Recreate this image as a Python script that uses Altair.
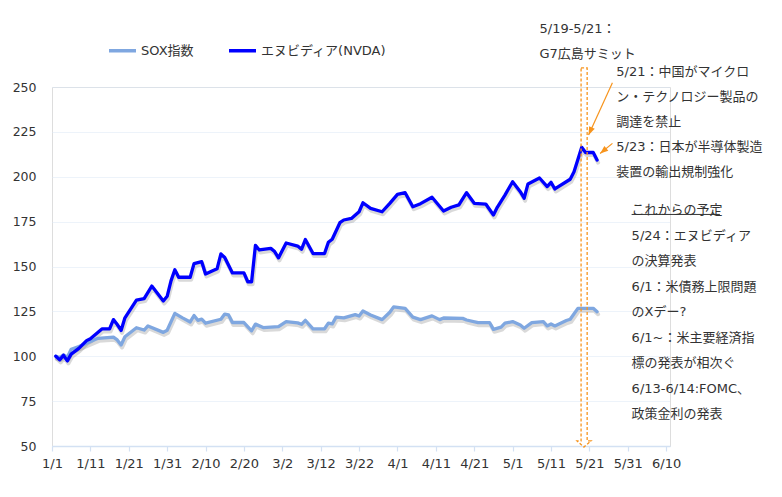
import altair as alt
import pandas as pd

# ---------------- data ----------------
series_names = ["SOX指数", "エヌビディア(NVDA)"]
series_colors = ["#7FA7E0", "#0000FF"]

nvda_dates = ["1/2", "1/3", "1/4", "1/5", "1/6", "1/8", "1/10", "1/11", "1/14", "1/16",
              "1/17", "1/18", "1/19", "1/20", "1/23", "1/25", "1/27", "1/30", "1/31", "2/1",
              "2/2", "2/3", "2/6", "2/7", "2/9", "2/10", "2/13", "2/14", "2/15", "2/17",
              "2/20", "2/21", "2/22", "2/23", "2/24", "2/27", "2/28", "3/1", "3/3", "3/6",
              "3/7", "3/8", "3/10", "3/13", "3/14", "3/15", "3/17", "3/18", "3/20", "3/22",
              "3/23", "3/25", "3/28", "3/30", "4/1", "4/3", "4/5", "4/7", "4/10", "4/13",
              "4/15", "4/17", "4/19", "4/21", "4/24", "4/26", "4/27", "4/29", "5/1", "5/3",
              "5/4", "5/5", "5/8", "5/10", "5/11", "5/12", "5/16", "5/17", "5/19", "5/20",
              "5/22", "5/23"]
nvda_values = [100, 98.0, 100.5, 97.4, 101.2, 104.4, 108.7, 109.8, 115.2, 115.2,
               120.4, 117.7, 114.4, 121.4, 131.3, 132.1, 139.1, 130.8, 133.4, 142.0,
               148.2, 144.0, 144.0, 151.6, 152.7, 145.8, 148.7, 157.0, 155.0, 146.4,
               146.4, 141.5, 141.5, 161.8, 159.2, 160.1, 158.3, 154.8, 163.1, 161.4,
               159.6, 165.0, 157.2, 157.2, 163.5, 165.2, 174.4, 175.9, 176.8, 180.5,
               185.5, 182.4, 180.5, 185.2, 190.2, 191.1, 183.3, 185.0, 188.6, 180.9,
               183.0, 184.3, 191.1, 185.2, 184.8, 178.7, 183.0, 189.8, 197.2, 191.7,
               188.0, 196.0, 199.3, 194.5, 196.9, 193.2, 198.6, 202.8, 216.4, 213.5,
               213.5, 209.3]

sox_dates = ["1/2", "1/3", "1/4", "1/5", "1/6", "1/8", "1/13", "1/17", "1/18", "1/19",
             "1/20", "1/23", "1/25", "1/26", "1/30", "1/31", "2/2", "2/4", "2/6", "2/7",
             "2/8", "2/9", "2/10", "2/14", "2/15", "2/16", "2/17", "2/20", "2/22", "2/23",
             "2/25", "3/1", "3/3", "3/6", "3/7", "3/8", "3/10", "3/13", "3/14", "3/15",
             "3/16", "3/18", "3/21", "3/22", "3/23", "3/25", "3/28", "3/30", "3/31", "4/3",
             "4/5", "4/7", "4/10", "4/12", "4/13", "4/18", "4/19", "4/22", "4/25", "4/26",
             "4/28", "4/29", "5/1", "5/3", "5/4", "5/6", "5/9", "5/10", "5/11", "5/12",
             "5/15", "5/16", "5/18", "5/22", "5/23"]
sox_values = [100, 99.3, 100.8, 99.5, 103.9, 105.4, 110.0, 110.6, 109.1, 106.3,
              110.9, 115.9, 114.6, 116.9, 113.3, 114.5, 123.9, 121.4, 119.1, 122.7,
              120.0, 120.7, 118.4, 120.6, 123.5, 123.0, 118.8, 118.8, 114.2, 117.9,
              116.0, 116.5, 119.3, 118.6, 117.8, 120.0, 115.3, 115.3, 118.5, 118.0,
              121.8, 121.4, 123.2, 122.4, 125.2, 123.0, 120.4, 124.5, 127.5, 126.7,
              121.8, 120.4, 122.5, 120.4, 121.3, 121.1, 120.2, 118.7, 118.7, 115.0,
              116.2, 118.4, 119.3, 117.4, 115.6, 118.7, 119.3, 116.9, 118.0, 116.9,
              119.9, 120.6, 126.7, 126.7, 124.8]

x_ticks = ["1/1", "1/11", "1/21", "1/31", "2/10", "2/20", "3/2", "3/12", "3/22", "4/1",
           "4/11", "4/21", "5/1", "5/11", "5/21", "5/31", "6/10"]
y_ticks = [50, 75, 100, 125, 150, 175, 200, 225, 250]

# annotation texts
text_g7 = ["5/19-5/21：", "G7広島サミット"]
text_news = ["5/21：中国がマイクロ", "ン・テクノロジー製品の", "調達を禁止",
             "5/23：日本が半導体製造", "装置の輸出規制強化"]
text_plan_title = "これからの予定"
text_plan = ["5/24：エヌビディア", "の決算発表", "6/1：米債務上限問題", "のXデー?",
             "6/1~：米主要経済指", "標の発表が相次ぐ", "6/13-6/14:FOMC、", "政策金利の発表"]

# hollow dashed arrow marking the G7 summit period (date, value outline)
g7_arrow_dates = ["5/18 20:00", "5/20 10:00", "5/20 10:00", "5/21 10:00", "5/19 14:00",
                  "5/17 19:00", "5/18 20:00", "5/18 20:00"]
g7_arrow_values = [260.6, 260.6, 52.8, 52.8, 49.4, 52.8, 52.8, 260.6]

# pointer arrows (from text to line)
ptr_from_dates = ["5/27", "5/27"]
ptr_from_values = [252.4, 218.6]
ptr_to_dates = ["5/20 19:00", "5/23 19:00"]
ptr_to_values = [223.3, 213.0]
ptr_angles = [204.5, 230.9]


def d(s):
    return "2023/" + s


def dt(s):
    m, dd = s.split("/")
    return alt.DateTime(year=2023, month=int(m), date=int(dd))


# ---------------- frames ----------------
lines_df = pd.concat([
    pd.DataFrame({"date": [d(s) for s in sox_dates], "value": sox_values, "series": series_names[0]}),
    pd.DataFrame({"date": [d(s) for s in nvda_dates], "value": nvda_values, "series": series_names[1]}),
], ignore_index=True)

g7_df = pd.DataFrame({"date": [d(s) for s in g7_arrow_dates], "value": g7_arrow_values,
                      "order": list(range(len(g7_arrow_dates)))})
ptr_df = pd.DataFrame({"date": [d(s) for s in ptr_from_dates], "value": ptr_from_values,
                       "date2": [d(s) for s in ptr_to_dates], "value2": ptr_to_values})
head_df = pd.DataFrame({"date": [d(s) for s in ptr_to_dates], "value": ptr_to_values,
                        "angle": ptr_angles})

FONT = "DejaVu Sans, Noto Sans CJK JP"
TXT = "#333333"
ORANGE = "#F7941D"
AXIS_BLUE = "#D3E1F3"

x_enc = alt.X("date:T",
              scale=alt.Scale(domain=[dt("1/1"), dt("6/11")], nice=False),
              axis=alt.Axis(values=[dt(s) for s in x_ticks], format="%-m/%-d", title=None,
                            grid=False, domainColor=AXIS_BLUE, domainWidth=1.5,
                            tickColor=AXIS_BLUE, tickSize=5, tickWidth=1.2,
                            labelFont="DejaVu Sans", labelFontSize=13, labelColor=TXT,
                            labelPadding=6, labelFlush=False, labelOverlap=False))
y_enc = alt.Y("value:Q",
              scale=alt.Scale(domain=[50, 250], nice=False, zero=False),
              axis=alt.Axis(values=y_ticks, title=None, grid=True, gridColor="#DAE6F5",
                            gridDash=[1, 1], gridWidth=1.2, domain=False, ticks=False,
                            tickSize=0, labelPadding=16, labelFont="DejaVu Sans",
                            labelFontSize=12.5, labelColor=TXT))

shadow = alt.Chart(lines_df).mark_line(
    color="#777777", opacity=0.28, strokeWidth=4, xOffset=1, yOffset=2.5,
    strokeJoin="round", strokeCap="round"
).encode(x=x_enc, y=y_enc, detail="series:N")

lines = alt.Chart(lines_df).mark_line(strokeWidth=3.3, strokeJoin="round", strokeCap="round").encode(
    x=x_enc, y=y_enc,
    color=alt.Color("series:N",
                    scale=alt.Scale(domain=series_names, range=series_colors),
                    legend=alt.Legend(title=None, orient="none", legendX=55, legendY=-52,
                                      direction="horizontal", symbolType="stroke",
                                      symbolSize=729, symbolStrokeWidth=3.5,
                                      labelFont=FONT, labelFontSize=13, labelColor=TXT,
                                      labelOffset=3, columnPadding=28, padding=0))
)

g7_arrow = alt.Chart(g7_df).mark_line(
    color=ORANGE, strokeWidth=1.3, strokeDash=[3, 2], strokeJoin="miter"
).encode(x=x_enc, y=y_enc, order="order:Q")

ptr_lines = alt.Chart(ptr_df).mark_rule(color=ORANGE, strokeWidth=1.2).encode(
    x=x_enc, y=y_enc, x2=alt.X2("date2:T"), y2=alt.Y2("value2:Q"))

ptr_heads = alt.Chart(head_df).mark_point(
    shape="M0,0L-0.65,1.7L0.65,1.7Z", size=90, filled=True, color=ORANGE, opacity=1
).encode(x=x_enc, y=y_enc, angle=alt.Angle("angle:Q", scale=None))


def text_block(lines_, date_s, value, line_height):
    df = pd.DataFrame({"date": [d(date_s)], "value": [value]})
    return alt.Chart(df).mark_text(
        text=lines_, align="left", baseline="top", lineHeight=line_height,
        font=FONT, fontSize=13, color=TXT
    ).encode(x=x_enc, y=y_enc)


t_g7 = text_block(text_g7, "5/8", 285.5, 25)
t_news = text_block(text_news, "5/28", 261.9, 25.2)
t_plan_title = text_block([text_plan_title], "6/1", 184.7, 25)
t_plan = text_block(text_plan, "6/1", 170.3, 25.45)

underline_df = pd.DataFrame({"date": [d("6/1")], "date2": [d("6/24")], "value": [179.0]})
underline = alt.Chart(underline_df).mark_rule(color=TXT, strokeWidth=1).encode(
    x=x_enc, x2=alt.X2("date2:T"), y=y_enc)

chart = alt.layer(
    shadow, lines, g7_arrow, ptr_lines, ptr_heads,
    t_g7, t_news, t_plan_title, t_plan, underline
).properties(
    width=618, height=359,
    padding={"left": 44, "top": 79, "right": 100, "bottom": 40},
    autosize=alt.AutoSizeParams(type="none"),
).configure_view(strokeWidth=0).configure(background="white")

chart.save("out.html", embed_options={"renderer": "svg", "actions": False})
